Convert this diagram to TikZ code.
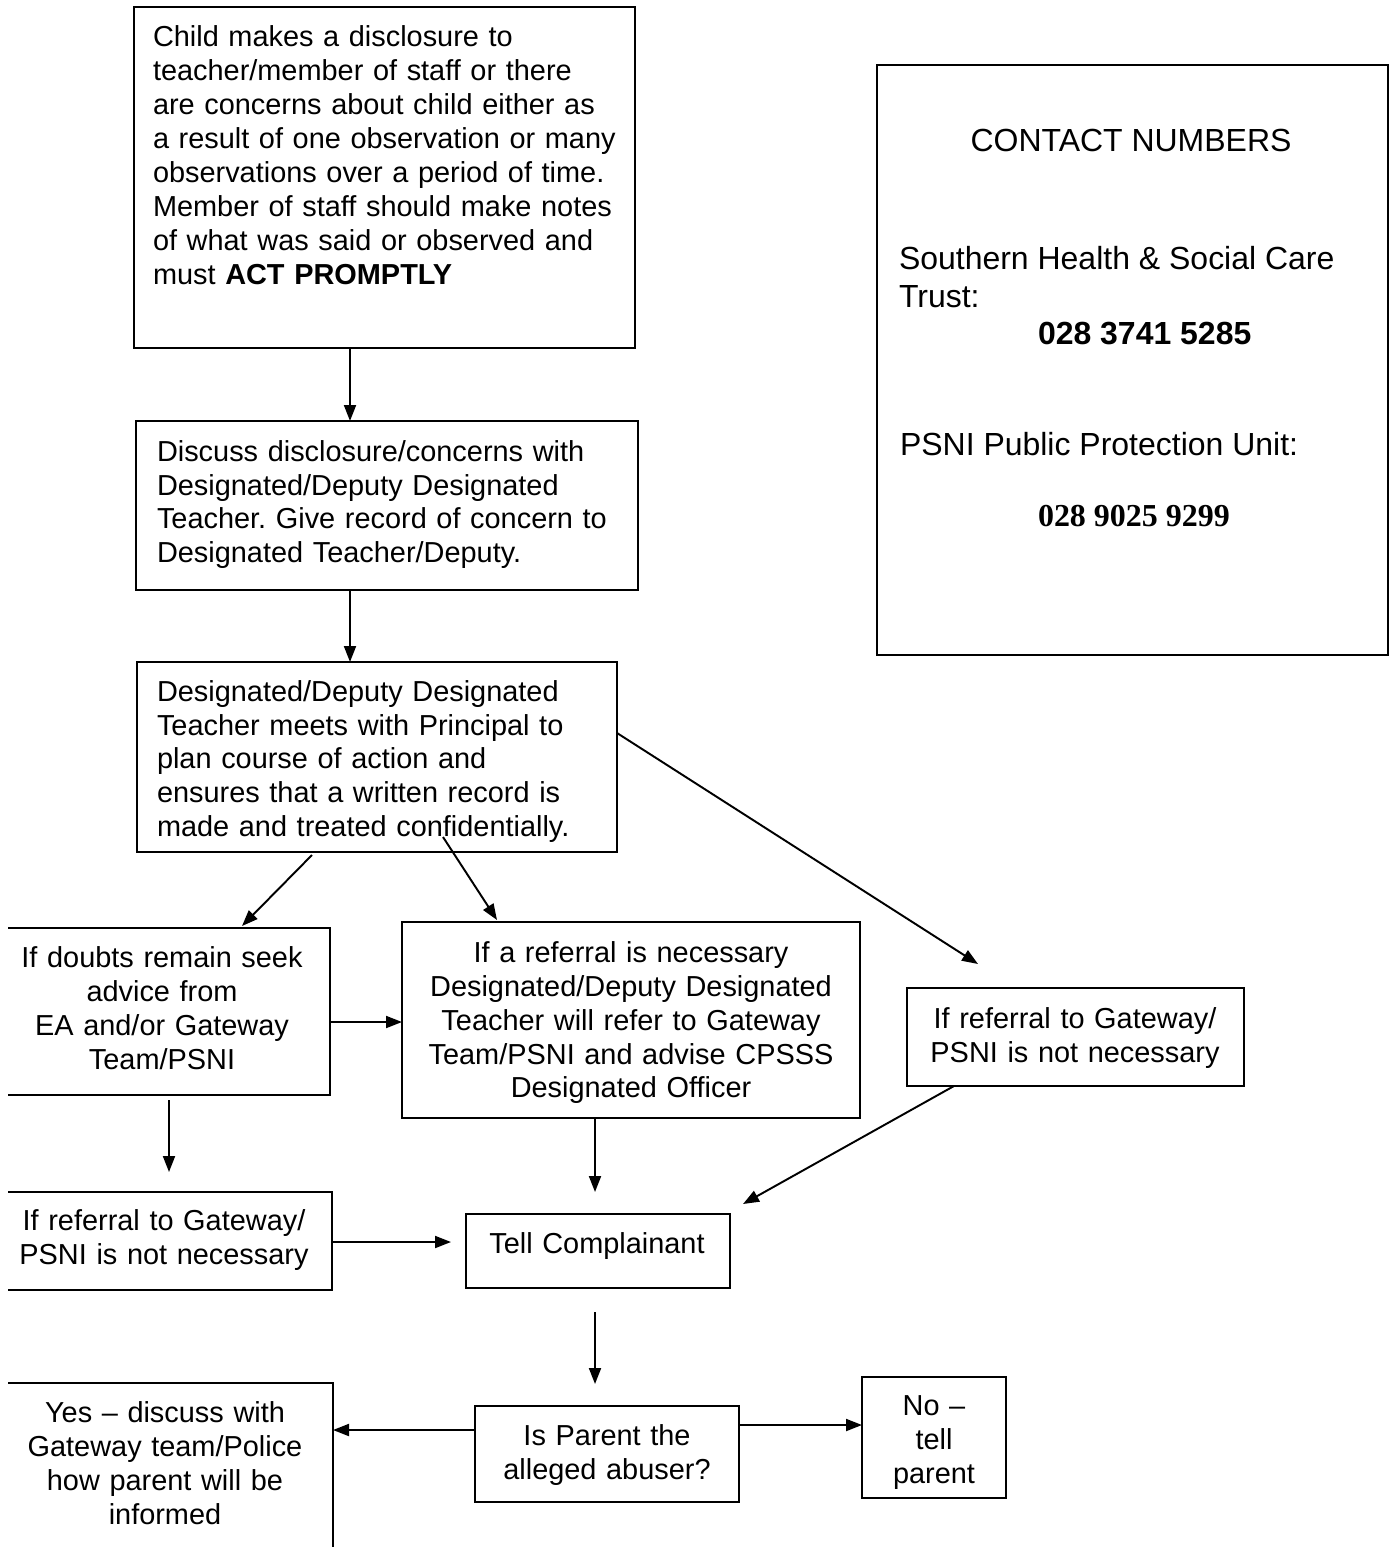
\documentclass[tikz,border=0pt]{standalone}
\usepackage{fontspec}
\setmainfont{Liberation Sans}
\newfontfamily\timesfont{Liberation Serif}
\usetikzlibrary{arrows.meta,fit}
\frenchspacing
\begin{document}
\begin{tikzpicture}[x=0.02cm,y=-0.02cm,
  box/.style={draw,line width=1.1pt,inner sep=0pt,outer sep=0pt},
  openbox/.style={inner sep=0pt,outer sep=0pt},
  txt/.style={inner sep=0pt,outer sep=0pt,font=\frenchspacing\fontsize{16.45}{19.35}\selectfont},
  ltxt/.style={txt,text width=10cm,align=left,anchor=base west},
  ctxt/.style={txt,text width=9cm,align=center,anchor=base},
  ctc/.style={inner sep=0pt,outer sep=0pt,font=\fontsize{18.2}{21}\selectfont,anchor=base west},
  arr/.style={line width=1.1pt,-{Triangle[length=0.32cm,width=0.24cm]}},
  edge/.style={line width=1.1pt}]
\useasboundingbox (0,0) rectangle (1392,1547);

% boxes
\node[box,fit={(134,7) (635,348)}] (b1) {};
\node[box,fit={(136,421) (638,590)}] (b2) {};
\node[box,fit={(137,662) (617,852)}] (b3) {};
\node[openbox,fit={(8,928) (330,1095)}] (b4) {};
\node[box,fit={(402,922) (860,1118)}] (b5) {};
\node[box,fit={(907,988) (1244,1086)}] (b6) {};
\node[openbox,fit={(8,1192) (332,1290)}] (b7) {};
\node[box,fit={(466,1214) (730,1288)}] (b8) {};
\node[box,fit={(475,1406) (739,1502)}] (b9) {};
\node[box,fit={(862,1377) (1006,1498)}] (b10) {};
\node[openbox,fit={(8,1383) (333,1547)}] (b11) {};
\node[box,fit={(877,65) (1388,655)}] (cb) {};

\draw[edge] (b4.north west) -- (b4.north east) -- (b4.south east) -- (b4.south west);
\draw[edge] (b7.north west) -- (b7.north east) -- (b7.south east) -- (b7.south west);
\draw[edge] (b11.north west) -- (b11.north east) -- (b11.south east);

% texts
\node[ltxt] (t1) at (153,47) {Child makes a disclosure to\\
teacher/member of staff or there\\
are concerns about child either as\\
a result of one observation or many\\
observations over a period of time.\\
Member of staff should make notes\\
of what was said or observed and\\
must \textbf{ACT PROMPTLY}};
\node[ltxt] (t2) at (157,461) {Discuss disclosure/concerns with\\
Designated/Deputy Designated\\
Teacher. Give record of concern to\\
Designated Teacher/Deputy.};
\node[ltxt] (t3) at (157,701) {Designated/Deputy Designated\\
Teacher meets with Principal to\\
plan course of action and\\
ensures that a written record is\\
made and treated confidentially.};
\node[ctxt] (t4) at (162,967) {If doubts remain seek\\ advice from\\ EA and/or Gateway\\ Team/PSNI};
\node[ctxt] (t5) at (631,962) {If a referral is necessary\\ Designated/Deputy Designated\\ Teacher will refer to Gateway\\ Team/PSNI and advise CPSSS\\ Designated Officer};
\node[ctxt] (t6) at (1075,1028) {If referral to Gateway/\\ PSNI is not necessary};
\node[ctxt] (t7) at (164,1230) {If referral to Gateway/\\ PSNI is not necessary};
\node[ctxt] (t8) at (597,1253) {Tell Complainant};
\node[ctxt] (t9) at (607,1445) {Is Parent the\\ alleged abuser?};
\node[ctxt] (t10) at (934,1415) {No –\\ tell\\ parent};
\node[ctxt] (t11) at (165,1422) {Yes – discuss with\\ Gateway team/Police\\ how parent will be\\ informed};

% contact texts
\node[ctc,anchor=base] (c1) at (1131,152) {CONTACT NUMBERS};
\node[ctc] (c2) at (899,270) {Southern Health \& Social Care};
\node[ctc] (c3) at (899,308) {Trust:};
\node[ctc] (c4) at (1038,344) {\textbf{028 3741 5285}};
\node[ctc] (c5) at (900,455) {PSNI Public Protection Unit:};
\node[ctc] (c6) at (1038,526) {\timesfont\bfseries 028 9025 9299};

% free-end coordinates
\coordinate (x350) at (350,0);
\coordinate (x169) at (169,0);
\coordinate (x595) at (595,0);
\coordinate (a3s) at (312,855);
\coordinate (a3e) at (242,926);
\coordinate (a4s) at (443,837);
\coordinate (a4e) at (497,920);
\coordinate (a5s) at (617,733);
\coordinate (a5e) at (978,964);
\coordinate (a7s) at (169,1100);
\coordinate (a7e) at (169,1172);
\coordinate (a8e) at (595,1192);
\coordinate (a9s) at (954,1086);
\coordinate (a9e) at (743,1204);
\coordinate (a10e) at (451,1242);
\coordinate (a11s) at (595,1312);
\coordinate (a11e) at (595,1384);

% connectors
\draw[arr] (b1.south -| x350) -- (b2.north -| x350);
\draw[arr] (b2.south -| x350) -- (b3.north -| x350);
\draw[arr] (a3s) -- (a3e);
\draw[arr] (a4s) -- (a4e);
\draw[arr] (a5s) -- (a5e);
\draw[arr] (b4.east |- 0,1022) -- (b5.west |- 0,1022);
\draw[arr] (a7s) -- (a7e);
\draw[arr] (b5.south -| x595) -- (a8e);
\draw[arr] (a9s) -- (a9e);
\draw[arr] (b7.east |- 0,1242) -- (a10e);
\draw[arr] (a11s) -- (a11e);
\draw[arr] (b9.west |- 0,1430) -- (b11.east |- 0,1430);
\draw[arr] (b9.east |- 0,1425) -- (b10.west |- 0,1425);
\end{tikzpicture}
\end{document}
